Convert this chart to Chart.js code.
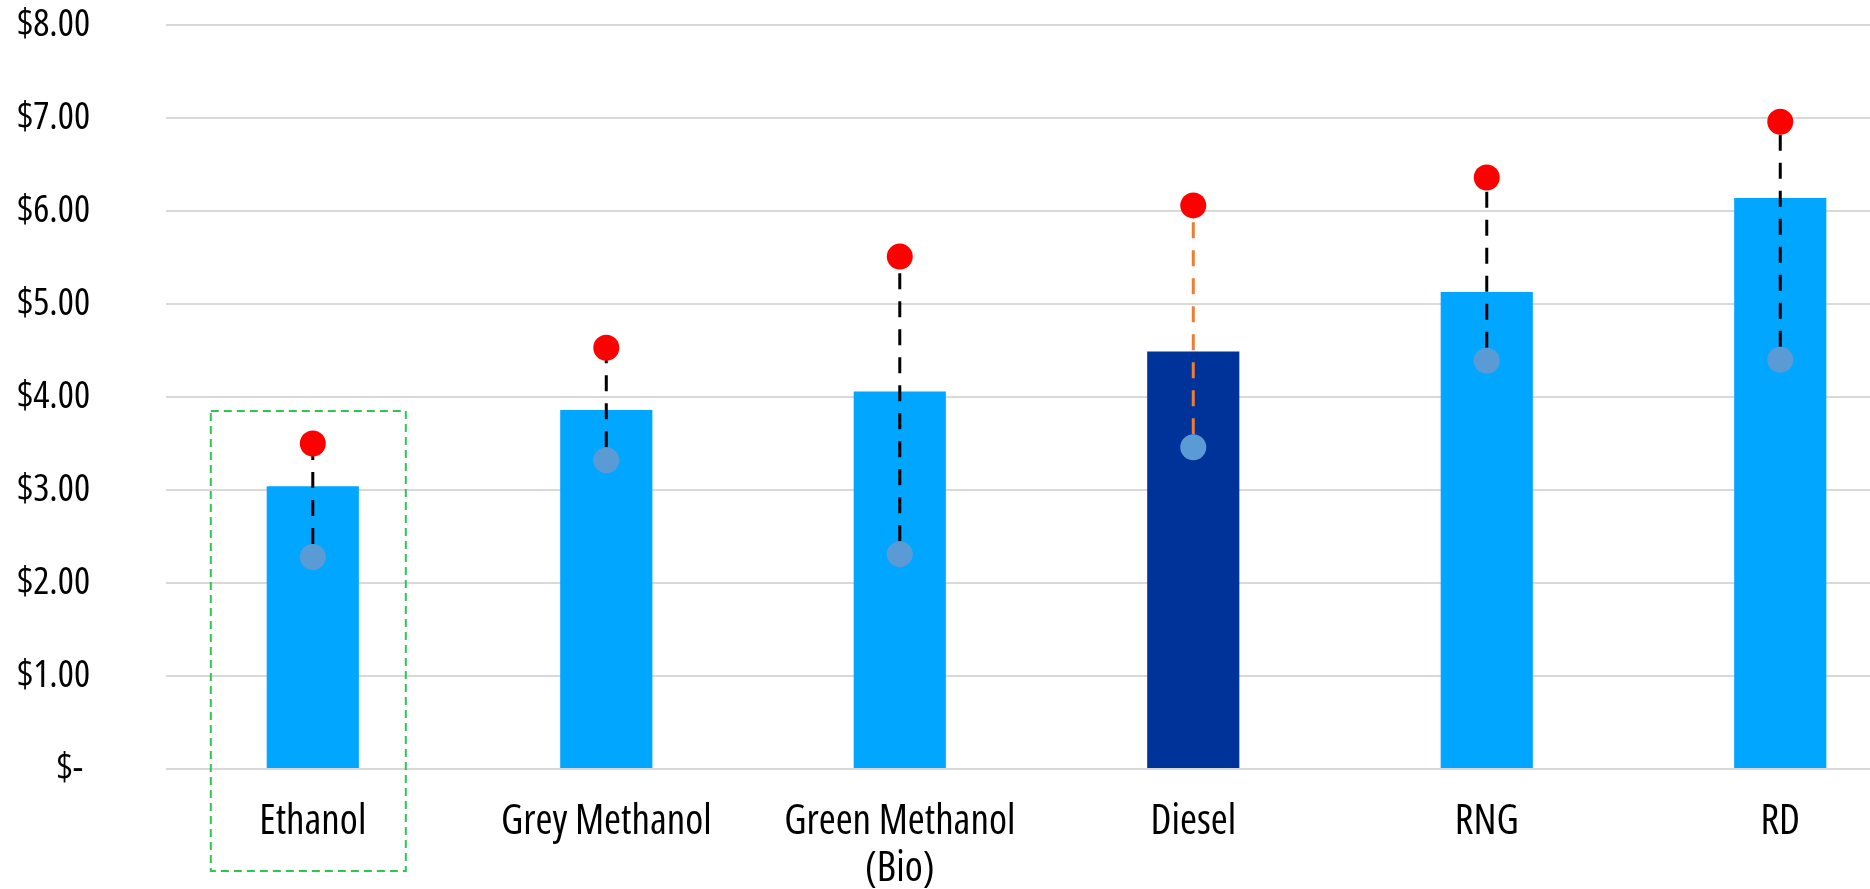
<!DOCTYPE html>
<html>
<head>
<meta charset="utf-8">
<title>Fuel cost comparison</title>
<script src="https://cdn.jsdelivr.net/npm/chart.js@4.4.1/dist/chart.umd.min.js"></script>
<style>
    html, body { margin: 0; padding: 0; background: #ffffff; overflow: hidden; }
    #chart_wrap { width: 1940px; height: 889px; }
</style>
</head>
<body>
<div id="chart_wrap"><canvas id="fuel_chart"></canvas></div>
<script>
// values
const categories = ["Ethanol", "Grey Methanol", ["Green Methanol", "(Bio)"], "Diesel", "RNG", "RD"];
const bar_values = [3.04, 3.86, 4.06, 4.49, 5.13, 6.14];
const high_values = [3.50, 4.53, 5.51, 6.06, 6.36, 6.96];
const low_values = [2.28, 3.32, 2.31, 3.46, 4.39, 4.40];
const bar_colors = ["#00A6FF", "#00A6FF", "#00A6FF", "#00339A", "#00A6FF", "#00A6FF"];
const link_colors = ["#000000", "#000000", "#000000", "#ED7D31", "#000000", "#000000"];
const y_tick_labels = ["$- ", "$1.00", "$2.00", "$3.00", "$4.00", "$5.00", "$6.00", "$7.00", "$8.00"];
const highlight_top = 3.85;   // top of the dashed box round Ethanol

// condensed face, the original uses a narrow DIN-like font
const font_family = "'Open Sans', 'DejaVu Sans Condensed', sans-serif";
const font_weight = "500 condensed";
const dot_radius = 13;

// dashed connector between the low and high dot of each category
const linkPlugin = {
    id: "links",
    afterDatasetDraw(chart, args){
        if(args.index !== 0) return;
        const ctx = chart.ctx;
        const hi = chart.getDatasetMeta(1).data;
        const lo = chart.getDatasetMeta(2).data;
        ctx.save();
        ctx.lineWidth = 3;
        ctx.setLineDash([16, 12]);
        for(let i = 0; i < lo.length; i++){
            ctx.strokeStyle = link_colors[i];
            ctx.beginPath();
            ctx.moveTo(lo[i].x, lo[i].y - dot_radius);
            ctx.lineTo(hi[i].x, hi[i].y);
            ctx.stroke();
        }
        ctx.restore();
    }
};

// green dashed box round the first category
const boxPlugin = {
    id: "highlight",
    afterDatasetsDraw(chart){
        const ctx = chart.ctx;
        const x = chart.scales.x.getPixelForValue(0);
        const top = chart.scales.y.getPixelForValue(highlight_top);
        const bottom = chart.chartArea.bottom + 102;
        ctx.save();
        ctx.strokeStyle = "#2DC653";
        ctx.lineWidth = 2;
        ctx.setLineDash([8, 5]);
        ctx.strokeRect(x - 102, top, 195, bottom - top);
        ctx.restore();
    }
};

new Chart(document.getElementById("fuel_chart").getContext("2d"), {
    type: "bar",
    data: {
        labels: categories,
        datasets: [
            {
                label: "Cost",
                data: bar_values,
                backgroundColor: bar_colors,
                borderWidth: 0,
                categoryPercentage: 0.314,
                barPercentage: 1.0,
                order: 3
            },
            {
                type: "line",
                label: "High",
                data: high_values,
                showLine: false,
                pointRadius: dot_radius,
                pointHoverRadius: dot_radius,
                pointBackgroundColor: "#FF0000",
                pointBorderWidth: 0,
                order: 1
            },
            {
                type: "line",
                label: "Low",
                data: low_values,
                showLine: false,
                pointRadius: dot_radius,
                pointHoverRadius: dot_radius,
                pointBackgroundColor: "#5B9BD5",
                pointBorderWidth: 0,
                order: 2
            }
        ]
    },
    options: {
        responsive: true,
        maintainAspectRatio: false,
        animation: false,
        layout: { padding: { left: 17, top: 25, right: 13, bottom: 0 } },
        plugins: {
            legend: { display: false },
            tooltip: { enabled: false }
        },
        scales: {
            x: {
                grid: { display: false },
                border: { display: false },
                ticks: {
                    color: "#000000",
                    padding: 22,
                    maxRotation: 0,
                    autoSkip: false,
                    font: { family: font_family, weight: font_weight, size: 41, lineHeight: 1.15 }
                },
                afterFit(scale){ scale.height = 120; }
            },
            y: {
                min: 0,
                max: 8,
                grid: {
                    color: "#D9D9D9",
                    lineWidth: 2,
                    drawTicks: true,
                    tickLength: 76,
                    tickColor: "rgba(0,0,0,0)"
                },
                border: { display: false },
                ticks: {
                    stepSize: 1,
                    color: "#000000",
                    padding: 0,
                    font: { family: font_family, weight: font_weight, size: 38 },
                    callback: function(value, index){ return y_tick_labels[index]; }
                }
            }
        }
    },
    plugins: [linkPlugin, boxPlugin]
});
</script>
</body>
</html>
